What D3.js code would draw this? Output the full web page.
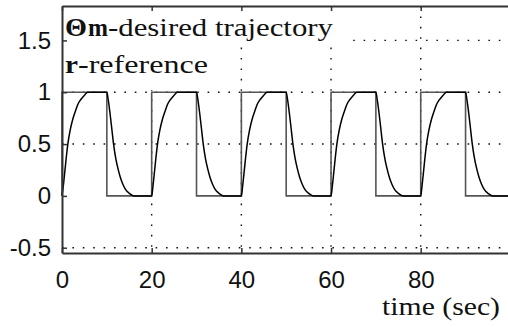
<!DOCTYPE html>
<html lang="en">

<head>
    <meta charset="UTF-8">
    <script src="https://d3js.org/d3.v7.min.js"></script>
    <title>Desired trajectory</title>
    <style>
        body { margin: 0; background: #fff; }
        .tick text { font-family: "Liberation Sans", Arial, sans-serif; font-size: 24px; fill: #111; }
        .serif { font-family: "Liberation Serif", "Times New Roman", serif; font-size: 25px; fill: #111; }
    </style>
</head>

<body>
    <div id="chart"></div>
    <script>
        // Data
        const xTicks = [0, 20, 40, 60, 80];
        const yTicks = [-0.5, 0, 0.5, 1, 1.5];
        const yTickLabels = ["-0.5", "0", "0.5", "1", "1.5"];
        const xGrid = [20, 40, 60, 80];
        const yGrid = [-0.5, 0.5, 1, 1.5];

        // r - reference (square wave)
        const refTime = [0, 0, 10, 10, 20, 20, 30, 30, 40, 40, 50, 50, 60, 60, 70, 70, 80, 80, 90, 90, 100];
        const refValue = [0, 1, 1, 0, 0, 1, 1, 0, 0, 1, 1, 0, 0, 1, 1, 0, 0, 1, 1, 0, 0];

        // theta_m - desired trajectory
        const desiredTime = [
            0, 0.25, 0.5, 0.9, 1.3, 1.8, 2.4, 3, 3.5, 4.2, 5, 5.7, 10, 10.3, 10.7, 11.1, 11.5, 12, 12.5, 13, 13.6, 14.2, 15, 16,
            20, 20.25, 20.5, 20.9, 21.3, 21.8, 22.4, 23, 23.5, 24.2, 25, 25.7, 30, 30.3, 30.7, 31.1, 31.5, 32, 32.5, 33, 33.6, 34.2, 35, 36,
            40, 40.25, 40.5, 40.9, 41.3, 41.8, 42.4, 43, 43.5, 44.2, 45, 45.7, 50, 50.3, 50.7, 51.1, 51.5, 52, 52.5, 53, 53.6, 54.2, 55, 56,
            60, 60.25, 60.5, 60.9, 61.3, 61.8, 62.4, 63, 63.5, 64.2, 65, 65.7, 70, 70.3, 70.7, 71.1, 71.5, 72, 72.5, 73, 73.6, 74.2, 75, 76,
            80, 80.25, 80.5, 80.9, 81.3, 81.8, 82.4, 83, 83.5, 84.2, 85, 85.7, 90, 90.3, 90.7, 91.1, 91.5, 92, 92.5, 93, 93.6, 94.2, 95, 96, 100
        ];
        const desiredTheta = [
            0, 0.08, 0.18, 0.35, 0.5, 0.63, 0.74, 0.82, 0.88, 0.93, 0.97, 1, 1, 0.93, 0.8, 0.65, 0.5, 0.36, 0.26, 0.18, 0.11, 0.06, 0.025, 0,
            0, 0.08, 0.18, 0.35, 0.5, 0.63, 0.74, 0.82, 0.88, 0.93, 0.97, 1, 1, 0.93, 0.8, 0.65, 0.5, 0.36, 0.26, 0.18, 0.11, 0.06, 0.025, 0,
            0, 0.08, 0.18, 0.35, 0.5, 0.63, 0.74, 0.82, 0.88, 0.93, 0.97, 1, 1, 0.93, 0.8, 0.65, 0.5, 0.36, 0.26, 0.18, 0.11, 0.06, 0.025, 0,
            0, 0.08, 0.18, 0.35, 0.5, 0.63, 0.74, 0.82, 0.88, 0.93, 0.97, 1, 1, 0.93, 0.8, 0.65, 0.5, 0.36, 0.26, 0.18, 0.11, 0.06, 0.025, 0,
            0, 0.08, 0.18, 0.35, 0.5, 0.63, 0.74, 0.82, 0.88, 0.93, 0.97, 1, 1, 0.93, 0.8, 0.65, 0.5, 0.36, 0.26, 0.18, 0.11, 0.06, 0.025, 0, 0
        ];

        // Chart dimensions
        const width = 508;
        const height = 327;
        const plotLeft = 62, plotRight = 510.4, plotTop = 6, plotBottom = 253;

        const svg = d3.select("#chart")
            .append("svg")
            .attr("width", width)
            .attr("height", height)
            .style("display", "block");

        svg.append("rect")
            .attr("width", width)
            .attr("height", height)
            .attr("fill", "#fff");

        // Scales
        const x = d3.scaleLinear().domain([0, 100]).range([plotLeft, plotRight]);
        const y = d3.scaleLinear().domain([-0.551, 1.832]).range([plotBottom, plotTop]);

        // Dotted grid
        const grid = svg.append("g")
            .attr("stroke", "#111")
            .attr("stroke-width", 1.4)
            .attr("stroke-dasharray", "1.6,8.8");

        grid.selectAll(".gx")
            .data(xGrid)
            .join("line")
            .attr("x1", d => x(d)).attr("x2", d => x(d))
            .attr("y1", plotTop).attr("y2", plotBottom);

        grid.selectAll(".gy")
            .data(yGrid)
            .join("line")
            .attr("x1", plotLeft).attr("x2", plotRight)
            .attr("y1", d => y(d)).attr("y2", d => y(d));

        // White boxes behind the two text labels
        svg.append("rect")
            .attr("x", plotLeft).attr("y", plotTop)
            .attr("width", 283).attr("height", 41)
            .attr("fill", "#fff");
        svg.append("rect")
            .attr("x", plotLeft).attr("y", plotTop + 41)
            .attr("width", 153).attr("height", 43)
            .attr("fill", "#fff");

        // Lines
        const refLine = d3.line()
            .x(i => x(refTime[i]))
            .y(i => y(refValue[i]));

        svg.append("path")
            .attr("d", refLine(d3.range(refTime.length)))
            .attr("fill", "none")
            .attr("stroke", "#555")
            .attr("stroke-width", 1.6);

        const desiredLine = d3.line()
            .x(i => x(desiredTime[i]))
            .y(i => y(desiredTheta[i]))
            .curve(d3.curveMonotoneX);

        svg.append("path")
            .attr("d", desiredLine(d3.range(desiredTime.length)))
            .attr("fill", "none")
            .attr("stroke", "#000")
            .attr("stroke-width", 1.5);

        // Axes
        const styleAxis = g => {
            g.select(".domain").attr("stroke", "#333").attr("stroke-width", 2);
            g.selectAll(".tick line").attr("stroke", "#333").attr("stroke-width", 1.5);
        };

        svg.append("g")
            .attr("transform", `translate(0,${plotBottom})`)
            .call(d3.axisBottom(x).tickValues(xTicks).tickSize(-5).tickSizeOuter(0).tickPadding(18))
            .call(styleAxis)
            .call(g => g.selectAll("text").attr("fill", "#111"));

        svg.append("g")
            .attr("transform", `translate(0,${plotTop})`)
            .call(d3.axisTop(x).tickValues(xTicks).tickSize(-5).tickSizeOuter(0).tickFormat(""))
            .call(styleAxis);

        svg.append("g")
            .attr("transform", `translate(${plotLeft},0)`)
            .call(d3.axisLeft(y).tickValues(yTicks).tickSize(-5).tickSizeOuter(0).tickPadding(11)
                .tickFormat((d, i) => yTickLabels[i]))
            .call(styleAxis)
            .call(g => g.selectAll("text").attr("fill", "#111"));

        // Text labels
        const addText = (str, x0, y0, len, bold) => svg.append("text")
            .attr("class", "serif")
            .attr("x", x0)
            .attr("y", y0)
            .attr("font-weight", bold ? "bold" : "normal")
            .attr("textLength", len)
            .attr("lengthAdjust", "spacingAndGlyphs")
            .text(str);

        addText("\u0398", 65, 36, 22, true);
        addText("m", 88, 36, 20, true);
        addText("-desired trajectory", 108, 36, 225, false);
        addText("r", 65, 72.5, 13, true);
        addText("-reference", 78, 72.5, 130, false);
        addText("time (sec)", 382, 315, 118, false);
    </script>
</body>

</html>
